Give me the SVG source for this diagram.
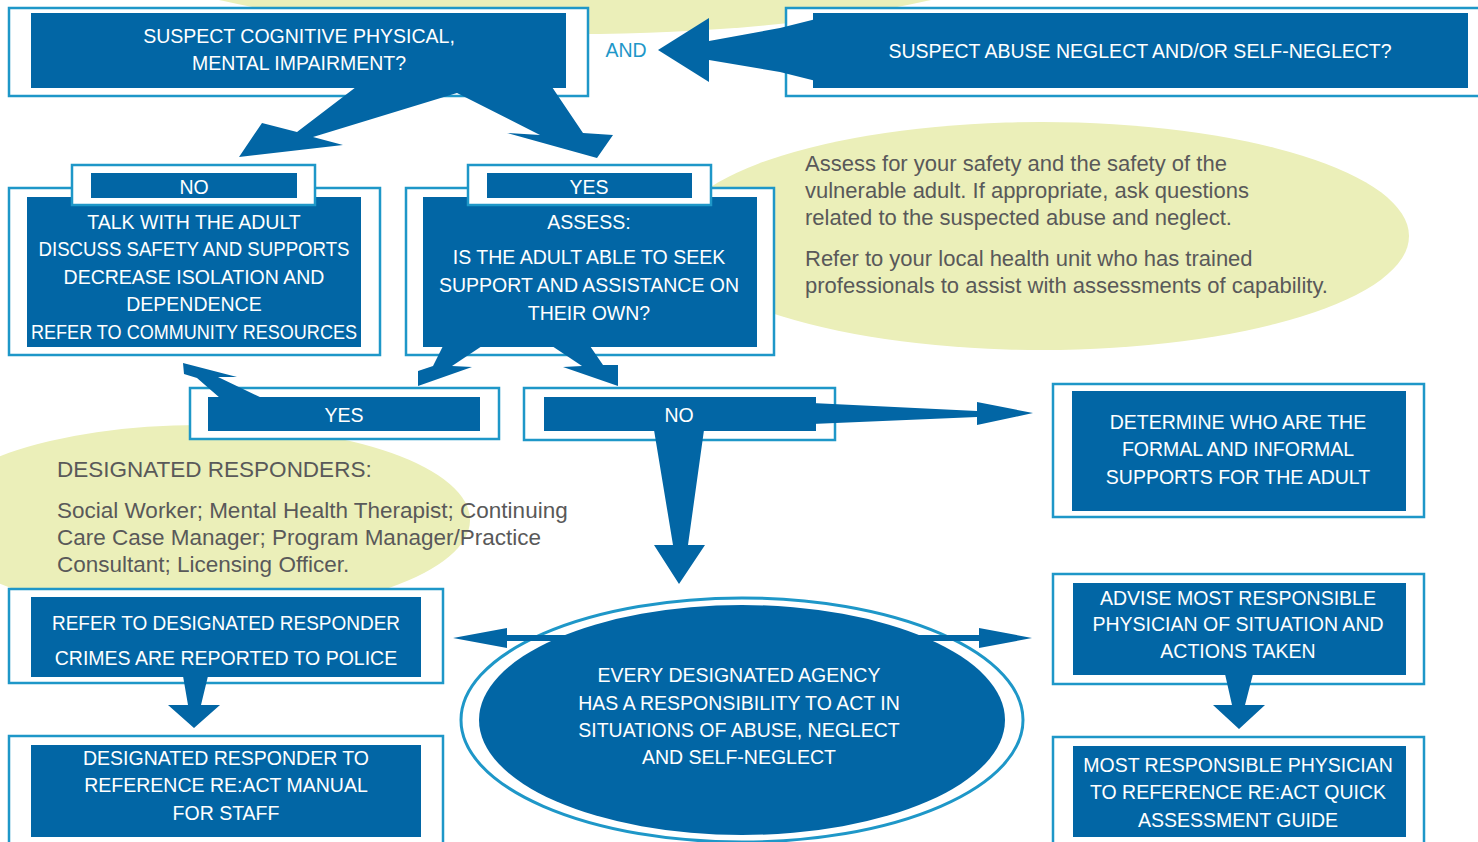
<svg xmlns="http://www.w3.org/2000/svg" width="1478" height="842" viewBox="0 0 1478 842">
<style>
.bg{fill:#ffffff}
.blob{fill:#ebefb9}
.frame{fill:#ffffff;stroke:#1e97c8;stroke-width:2.5}
.dark{fill:#0266a5}
.arrow{fill:#0266a5}
.wt{font-family:"Liberation Sans",Arial,sans-serif;font-size:19.5px;fill:#ffffff;text-anchor:middle}
.gt{font-family:"Liberation Sans",Arial,sans-serif;font-size:22px;fill:#595959}
.gl{font-family:"Liberation Sans",Arial,sans-serif;font-size:22.5px;fill:#595959}
.and{font-family:"Liberation Sans",Arial,sans-serif;font-size:19.5px;fill:#1e97c8;text-anchor:middle}
</style>
<rect class="bg" x="0" y="0" width="1478" height="842"/>

<g id="notes">
<ellipse class="blob" cx="575" cy="-80" rx="500" ry="114"/>
<ellipse class="blob" cx="1042" cy="236" rx="367" ry="114"/>
<ellipse class="blob" cx="200" cy="520" rx="270" ry="95"/>
</g>

<g id="note-assess">
<text class="gt" x="805" y="171">Assess for your safety and the safety of the</text>
<text class="gt" x="805" y="198">vulnerable adult. If appropriate, ask questions</text>
<text class="gt" x="805" y="225">related to the suspected abuse and neglect.</text>
<text class="gt" x="805" y="266">Refer to your local health unit who has trained</text>
<text class="gt" x="805" y="293">professionals to assist with assessments of capability.</text>
</g>

<g id="note-responders">
<text class="gl" x="57" y="477">DESIGNATED RESPONDERS:</text>
<text class="gl" x="57" y="518">Social Worker; Mental Health Therapist; Continuing</text>
<text class="gl" x="57" y="545">Care Case Manager; Program Manager/Practice</text>
<text class="gl" x="57" y="572">Consultant; Licensing Officer.</text>
</g>

<g id="suspect-cognitive">
<rect class="frame" x="9" y="8" width="579" height="88"/>
<rect class="dark" x="31" y="13" width="535" height="75"/>
<text class="wt" x="299" y="43">SUSPECT COGNITIVE PHYSICAL,</text>
<text class="wt" x="299" y="70">MENTAL IMPAIRMENT?</text>
</g>

<g id="and-label">
<text class="and" x="626" y="57">AND</text>
</g>

<g id="suspect-abuse">
<rect class="frame" x="786" y="8" width="700" height="88"/>
<rect class="dark" x="813" y="13" width="655" height="75"/>
<text class="wt" x="1140" y="58">SUSPECT ABUSE NEGLECT AND/OR SELF-NEGLECT?</text>
</g>

<g id="no-talk">
<rect class="frame" x="9" y="188" width="371" height="167"/>
<rect class="dark" x="27" y="197" width="334" height="150"/>
<rect class="frame" x="72" y="165" width="243" height="40"/>
<rect class="dark" x="91" y="173" width="206" height="25"/>
<text class="wt" x="194" y="194">NO</text>
<text class="wt" x="194" y="229">TALK WITH THE ADULT</text>
<text class="wt" x="194" y="256" textLength="311" lengthAdjust="spacingAndGlyphs">DISCUSS SAFETY AND SUPPORTS</text>
<text class="wt" x="194" y="284">DECREASE ISOLATION AND</text>
<text class="wt" x="194" y="311">DEPENDENCE</text>
<text class="wt" x="194" y="339" textLength="326" lengthAdjust="spacingAndGlyphs">REFER TO COMMUNITY RESOURCES</text>
</g>

<g id="yes-assess">
<rect class="frame" x="406" y="188" width="368" height="167"/>
<rect class="dark" x="423" y="197" width="334" height="150"/>
<rect class="frame" x="468" y="165" width="243" height="40"/>
<rect class="dark" x="487" y="173" width="205" height="25"/>
<text class="wt" x="589" y="194">YES</text>
<text class="wt" x="589" y="229">ASSESS:</text>
<text class="wt" x="589" y="264">IS THE ADULT ABLE TO SEEK</text>
<text class="wt" x="589" y="292">SUPPORT AND ASSISTANCE ON</text>
<text class="wt" x="589" y="320">THEIR OWN?</text>
</g>

<g id="yes-able">
<rect class="frame" x="190" y="388" width="309" height="51"/>
<rect class="dark" x="208" y="397" width="272" height="34"/>
<text class="wt" x="344" y="422">YES</text>
</g>

<g id="no-unable">
<rect class="frame" x="524" y="388" width="311" height="52"/>
<rect class="dark" x="544" y="397" width="272" height="34"/>
<text class="wt" x="679" y="422">NO</text>
</g>

<g id="determine-supports">
<rect class="frame" x="1053" y="384" width="371" height="133"/>
<rect class="dark" x="1072" y="391" width="334" height="120"/>
<text class="wt" x="1238" y="429">DETERMINE WHO ARE THE</text>
<text class="wt" x="1238" y="456">FORMAL AND INFORMAL</text>
<text class="wt" x="1238" y="484">SUPPORTS FOR THE ADULT</text>
</g>

<g id="refer-responder">
<rect class="frame" x="9" y="589" width="434" height="94"/>
<rect class="dark" x="31" y="597" width="390" height="80"/>
<text class="wt" x="226" y="630" textLength="348" lengthAdjust="spacingAndGlyphs">REFER TO DESIGNATED RESPONDER</text>
<text class="wt" x="226" y="665">CRIMES ARE REPORTED TO POLICE</text>
</g>

<g id="responder-manual">
<rect class="frame" x="9" y="736" width="434" height="120"/>
<rect class="dark" x="31" y="745" width="390" height="92"/>
<text class="wt" x="226" y="765">DESIGNATED RESPONDER TO</text>
<text class="wt" x="226" y="792">REFERENCE RE:ACT MANUAL</text>
<text class="wt" x="226" y="820">FOR STAFF</text>
</g>

<g id="every-agency">
<ellipse cx="742" cy="720" rx="281" ry="122" fill="#ffffff" stroke="#1e97c8" stroke-width="3"/>
<ellipse class="dark" cx="742" cy="720" rx="263" ry="115"/>
<text class="wt" x="739" y="682">EVERY DESIGNATED AGENCY</text>
<text class="wt" x="739" y="710">HAS A RESPONSIBILITY TO ACT IN</text>
<text class="wt" x="739" y="737">SITUATIONS OF ABUSE, NEGLECT</text>
<text class="wt" x="739" y="764">AND SELF-NEGLECT</text>
</g>

<g id="advise-physician">
<rect class="frame" x="1053" y="574" width="371" height="110"/>
<rect class="dark" x="1073" y="583" width="333" height="92"/>
<text class="wt" x="1238" y="605">ADVISE MOST RESPONSIBLE</text>
<text class="wt" x="1238" y="631">PHYSICIAN OF SITUATION AND</text>
<text class="wt" x="1238" y="658">ACTIONS TAKEN</text>
</g>

<g id="physician-guide">
<rect class="frame" x="1053" y="737" width="371" height="120"/>
<rect class="dark" x="1073" y="746" width="333" height="91"/>
<text class="wt" x="1238" y="772">MOST RESPONSIBLE PHYSICIAN</text>
<text class="wt" x="1238" y="799">TO REFERENCE RE:ACT QUICK</text>
<text class="wt" x="1238" y="827">ASSESSMENT GUIDE</text>
</g>

<g id="connectors">
<polygon class="arrow" points="658,50 709,18 709,41 780,28 820,18 820,82 780,72 709,60 709,82"/>
<polygon class="arrow" points="356,87 297,132 262,123 239,157 343,145 313,137 457,93 540,135 507,133 597,158 613,135 583,133 552,87"/>
<polygon class="arrow" points="443,346 433,366 418,371 418,386 472,367 452,366 482,346"/>
<polygon class="arrow" points="552,346 582,366 563,367 618,386 618,365 603,365 590,346"/>
<polygon class="arrow" points="183,363 237,377 218,377 262,398 220,398 197,378 184,374"/>
<polygon class="arrow" points="812,403 977,411 977,402 1033,413 977,425 977,417 812,424"/>
<polygon class="arrow" points="654,430 673,545 654,545 679,584 705,545 688,545 704,430"/>
<polygon class="arrow" points="453,638 507,628 507,635 979,635 979,628 1032,638 979,648 979,641 507,641 507,648"/>
<polygon class="arrow" points="183,676 188,705 168,705 194,728 220,705 201,705 208,676"/>
<polygon class="arrow" points="1225,674 1232,705 1213,705 1239,729 1265,705 1245,705 1253,674"/>
</g>
</svg>
